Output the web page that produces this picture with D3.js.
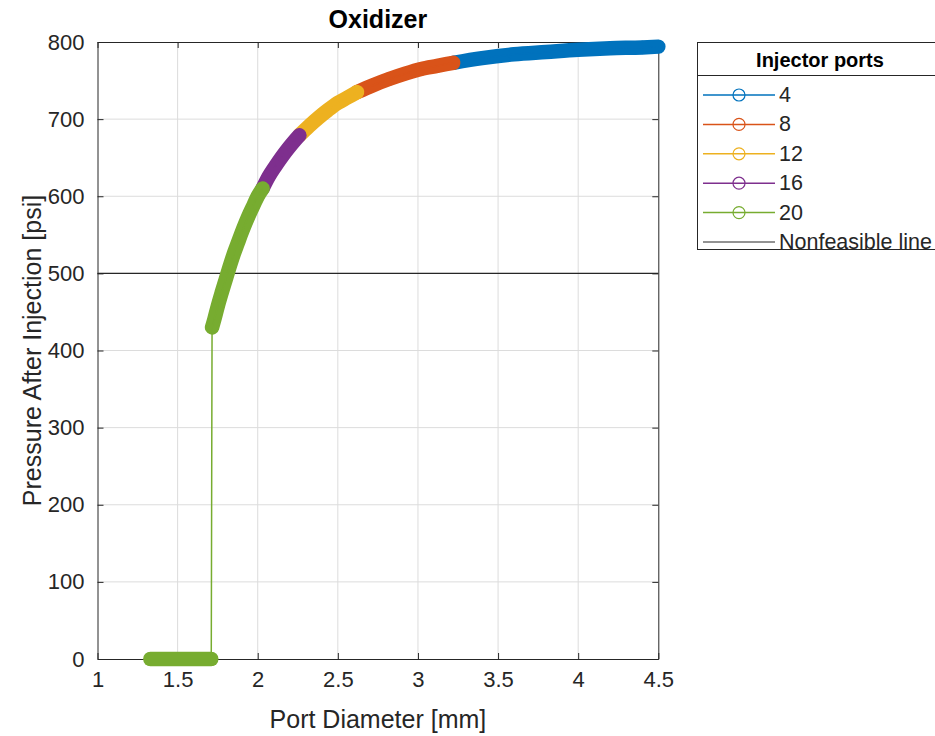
<!DOCTYPE html>
<html><head><meta charset="utf-8">
<script src="https://cdn.jsdelivr.net/npm/d3@7"></script>
<style>body{margin:0;background:#fff}svg{display:block}text{font-family:"Liberation Sans",Arial,Helvetica,sans-serif}</style>
</head><body><svg id="c" width="935" height="736"></svg>
<script>
// ---- data ----
const seriesNames = ["4", "8", "12", "16", "20"];
const d4 = [3.22, 3.4, 3.6, 3.8, 4.0, 4.2, 4.4, 4.5];
const p4 = [773, 779, 784, 787, 790, 792, 793, 794];
const d8 = [2.62, 2.72, 2.82, 2.92, 3.02, 3.12, 3.22];
const p8 = [735, 744, 752, 759, 765, 769, 773];
const d12 = [2.26, 2.32, 2.38, 2.44, 2.50, 2.56, 2.62];
const p12 = [679, 691, 702, 712, 721, 728, 735];
const d16 = [2.03, 2.07, 2.11, 2.15, 2.19, 2.23, 2.26];
const p16 = [610, 626, 639, 651, 662, 672, 679];
const d20 = [1.33, 1.38, 1.43, 1.48, 1.53, 1.58, 1.63, 1.68, 1.71, 1.715, 1.73, 1.75, 1.775, 1.80, 1.825, 1.85, 1.875, 1.90, 1.925, 1.95, 1.975, 2.00, 2.03];
const p20 = [0, 0, 0, 0, 0, 0, 0, 0, 0, 430, 441, 457, 475, 492, 509, 525, 539, 553, 566, 578, 589, 600, 610];
const nonfeasible = 500;
const xTicks = [1, 1.5, 2, 2.5, 3, 3.5, 4, 4.5];
const yTicks = [0, 100, 200, 300, 400, 500, 600, 700, 800];
const colors = ["#0072BD", "#D95319", "#EDB120", "#7E2F8E", "#77AC30"];

(function(){
const series = [[d4,p4],[d8,p8],[d12,p12],[d16,p16],[d20,p20]].map((s,i)=>({
  name: seriesNames[i], color: colors[i], pts: s[0].map((d,j)=>({d, p: s[1][j]}))
}));

const svg = d3.select("#c");
const L = 97.5, R = 658.3, T = 42, B = 659;
const x = d3.scaleLinear().domain([1, 4.5]).range([L, R]);
const y = d3.scaleLinear().domain([0, 800]).range([B, T]);
const axisCol = "#262626";

// grid
const g = svg.append("g");
g.selectAll(".gx").data(xTicks.slice(1, -1)).join("line")
  .attr("x1", d=>x(d)).attr("x2", d=>x(d)).attr("y1", T).attr("y2", B)
  .attr("stroke", "#dcdcdc").attr("stroke-width", 1);
g.selectAll(".gy").data(yTicks.slice(1, -1)).join("line")
  .attr("y1", d=>y(d)).attr("y2", d=>y(d)).attr("x1", L).attr("x2", R)
  .attr("stroke", "#dcdcdc").attr("stroke-width", 1);

// nonfeasible line
svg.append("line").attr("x1", L).attr("x2", R)
  .attr("y1", y(nonfeasible)).attr("y2", y(nonfeasible))
  .attr("stroke", "#262626").attr("stroke-width", 1.2);

// axes (inward ticks, box)
const tl = 6;
const axB = d3.axisBottom(x).tickValues(xTicks).tickSizeInner(-tl).tickSizeOuter(0).tickPadding(12).tickFormat(d3.format("~g"));
const axL = d3.axisLeft(y).tickValues(yTicks).tickSizeInner(-tl).tickSizeOuter(0).tickPadding(13).tickFormat(d3.format("~g"));
const axT = d3.axisTop(x).tickValues(xTicks).tickSizeInner(-tl).tickSizeOuter(0).tickFormat("");
const axR = d3.axisRight(y).tickValues(yTicks).tickSizeInner(-tl).tickSizeOuter(0).tickFormat("");
function style(sel){
  sel.selectAll("path,line").attr("stroke", axisCol).attr("stroke-width", 1);
  sel.selectAll("text").attr("fill", axisCol).style("font-size", "22px").style("font-family", '"Liberation Sans",Arial,sans-serif');
}
svg.append("g").attr("transform", `translate(0,${B})`).call(axB).call(style);
svg.append("g").attr("transform", `translate(${L},0)`).call(axL).call(style);
svg.append("g").attr("transform", `translate(0,${T})`).call(axT).call(style);
svg.append("g").attr("transform", `translate(${R},0)`).call(axR).call(style);

// series
const line = d3.line().x(d=>x(d.d)).y(d=>y(d.p));
const band = d3.line().x(d=>x(d.d)).y(d=>y(d.p)).curve(d3.curveMonotoneX);
series.forEach(s=>{
  const sg = svg.append("g");
  const runs = [];
  s.pts.forEach((pt,i)=>{
    const f = pt.p > 0;
    if (i === 0 || f !== (s.pts[i-1].p > 0)) runs.push([]);
    runs[runs.length-1].push(pt);
  });
  runs.forEach(r=>{
    sg.append("path").attr("d", band(r)).attr("fill", "none")
      .attr("stroke", s.color).attr("stroke-width", 14.5)
      .attr("stroke-linecap", "round").attr("stroke-linejoin", "round");
  });
  sg.append("path").attr("d", line(s.pts)).attr("fill", "none")
    .attr("stroke", s.color).attr("stroke-width", 1.5);
  sg.selectAll("circle").data(s.pts).join("circle")
    .attr("cx", d=>x(d.d)).attr("cy", d=>y(d.p)).attr("r", 6.2)
    .attr("fill", "none").attr("stroke", s.color).attr("stroke-width", 1);
});

// titles
svg.append("text").attr("x", (L+R)/2).attr("y", 28).attr("text-anchor", "middle")
  .style("font-size", "25px").style("font-weight", "bold").attr("fill", "#000").text("Oxidizer");
svg.append("text").attr("x", (L+R)/2).attr("y", 728).attr("text-anchor", "middle")
  .style("font-size", "25px").attr("fill", axisCol).text("Port Diameter [mm]");
svg.append("text").attr("transform", `translate(41,${(T+B)/2}) rotate(-90)`).attr("text-anchor", "middle")
  .style("font-size", "25px").attr("fill", axisCol).text("Pressure After Injection [psi]");

// legend
const lg = svg.append("g");
lg.append("rect").attr("x", 697.5).attr("y", 42.5).attr("width", 260).attr("height", 207)
  .attr("fill", "#fff").attr("stroke", axisCol).attr("stroke-width", 1);
lg.append("line").attr("x1", 697.5).attr("x2", 958).attr("y1", 75.5).attr("y2", 75.5)
  .attr("stroke", axisCol).attr("stroke-width", 1);
lg.append("text").attr("x", 820).attr("y", 67).attr("text-anchor", "middle")
  .style("font-size", "20px").style("font-weight", "bold").attr("fill", "#000").text("Injector ports");
const entries = series.map(s=>({name: s.name, color: s.color, marker: true}))
  .concat([{name: "Nonfeasible line", color: "#262626", marker: false}]);
const rowY = d3.scaleLinear().domain([0, 5]).range([95, 242]);
entries.forEach((e,i)=>{
  const yy = rowY(i);
  lg.append("line").attr("x1", 703).attr("x2", 775).attr("y1", yy).attr("y2", yy)
    .attr("stroke", e.color).attr("stroke-width", e.marker ? 1.5 : 1);
  if (e.marker) lg.append("circle").attr("cx", 739).attr("cy", yy).attr("r", 6)
    .attr("fill", "none").attr("stroke", e.color).attr("stroke-width", 1.2);
  lg.append("text").attr("x", 779).attr("y", yy + 7).style("font-size", "21.5px")
    .attr("fill", axisCol).text(e.name);
});
})();
</script></body></html>
